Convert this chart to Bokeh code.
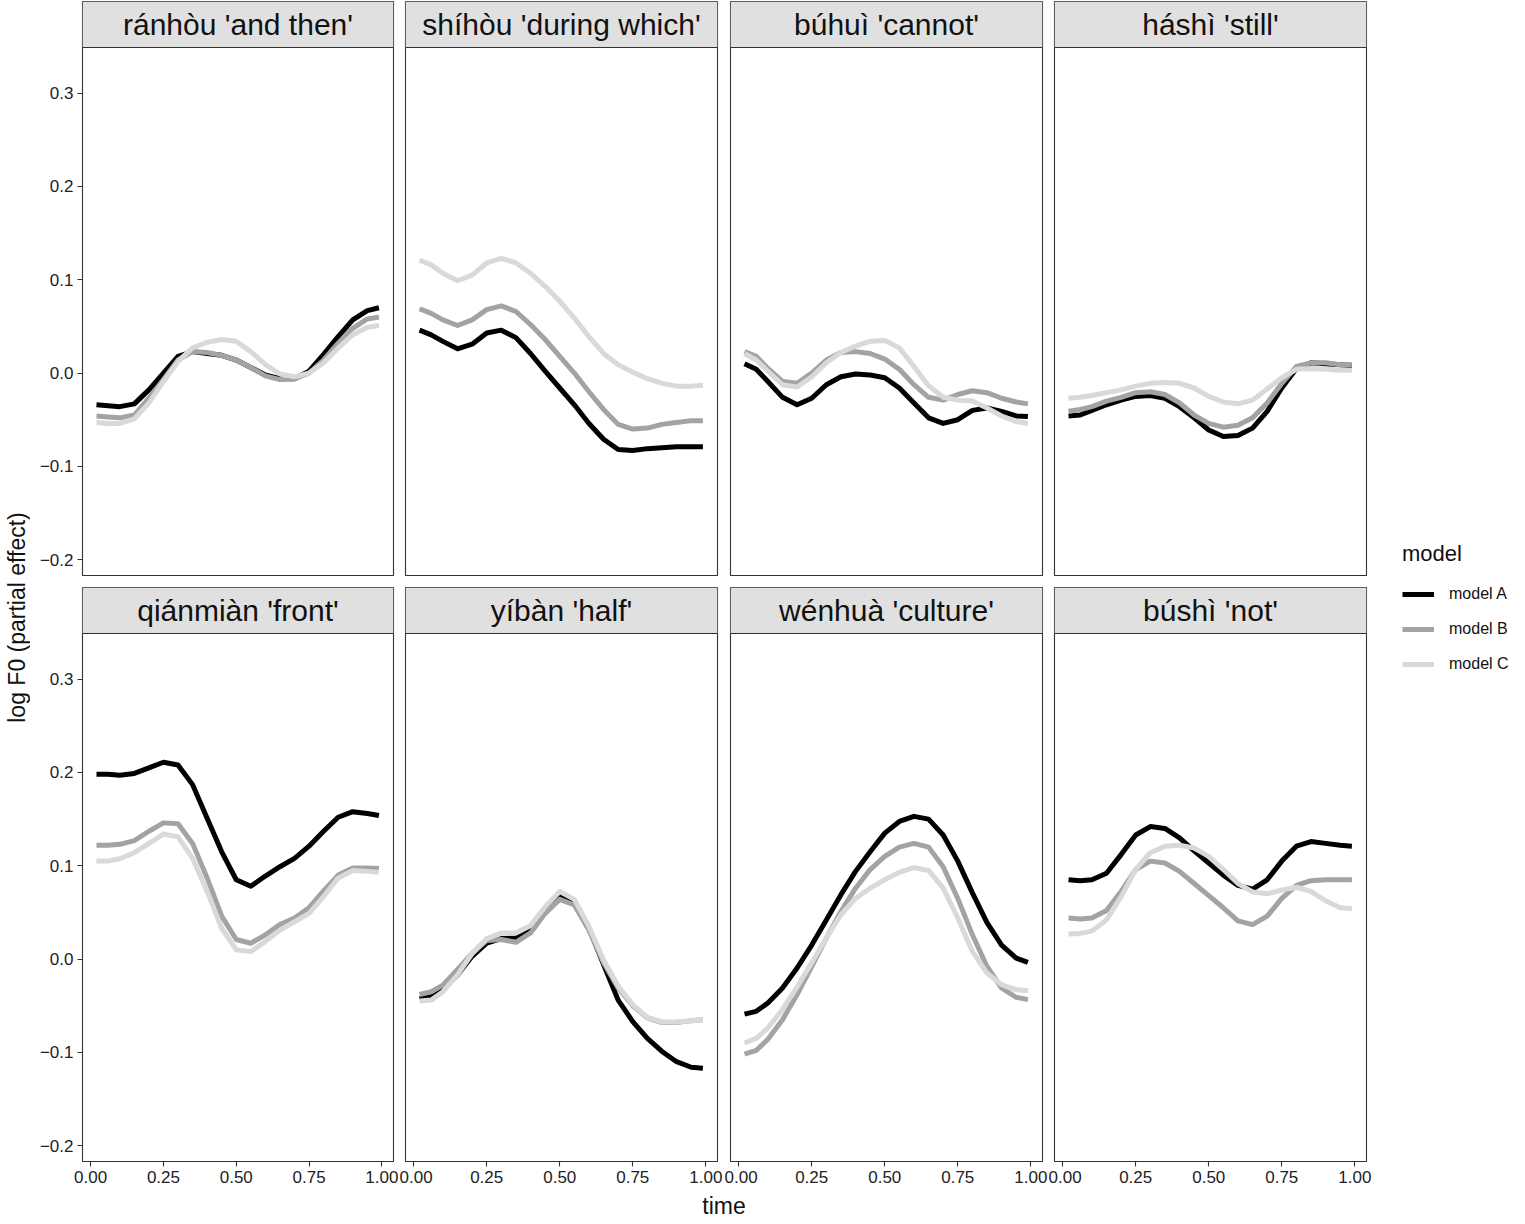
from math import pi

from bokeh.core.properties import value
from bokeh.embed import file_html
from bokeh.layouts import column, row
from bokeh.models import (BoxAnnotation, FixedTicker, Label, Legend, LegendItem,
                          NumeralTickFormatter, Range1d, Span)
from bokeh.plotting import figure
from bokeh.resources import INLINE

FONT = "Liberation Sans"

# normalised time points
time = [0.02, 0.06, 0.10, 0.15, 0.20, 0.25, 0.30, 0.35, 0.40, 0.45, 0.50,
        0.55, 0.60, 0.65, 0.70, 0.75, 0.80, 0.85, 0.90, 0.95, 0.99]

ranhou_a = [-0.034, -0.035, -0.036, -0.033, -0.018, 0.000, 0.018, 0.023, 0.021, 0.019, 0.014,
            0.006, -0.002, -0.006, -0.006, 0.002, 0.020, 0.039, 0.057, 0.067, 0.070]
ranhou_b = [-0.046, -0.047, -0.048, -0.045, -0.027, -0.007, 0.014, 0.023, 0.022, 0.019, 0.014,
            0.006, -0.003, -0.007, -0.006, 0.000, 0.014, 0.032, 0.048, 0.058, 0.060]
ranhou_c = [-0.053, -0.054, -0.054, -0.049, -0.032, -0.009, 0.0125, 0.027, 0.033, 0.036, 0.034,
            0.023, 0.009, -0.001, -0.004, 0.000, 0.011, 0.027, 0.041, 0.049, 0.051]

shihou_a = [0.046, 0.041, 0.034, 0.026, 0.031, 0.043, 0.046, 0.038, 0.021, 0.002, -0.016,
            -0.034, -0.054, -0.071, -0.082, -0.083, -0.081, -0.080, -0.079, -0.079, -0.079]
shihou_b = [0.069, 0.064, 0.057, 0.051, 0.057, 0.068, 0.072, 0.066, 0.052, 0.036, 0.018,
            0.000, -0.020, -0.039, -0.055, -0.060, -0.059, -0.055, -0.053, -0.051, -0.051]
shihou_c = [0.121, 0.116, 0.107, 0.099, 0.105, 0.118, 0.123, 0.118, 0.107, 0.093, 0.077,
            0.059, 0.039, 0.021, 0.009, 0.001, -0.006, -0.011, -0.014, -0.014, -0.013]

buhui_a = [0.010, 0.004, -0.009, -0.026, -0.034, -0.027, -0.0125, -0.004, -0.001, -0.002, -0.005,
           -0.016, -0.032, -0.048, -0.054, -0.050, -0.040, -0.0375, -0.041, -0.046, -0.0465]
buhui_b = [0.023, 0.018, 0.005, -0.009, -0.011, 0.000, 0.014, 0.022, 0.023, 0.021, 0.015,
           0.004, -0.0125, -0.026, -0.029, -0.023, -0.019, -0.021, -0.027, -0.031, -0.033]
buhui_c = [0.021, 0.014, 0.002, -0.0125, -0.015, -0.004, 0.011, 0.022, 0.029, 0.034, 0.035,
           0.027, 0.007, -0.0135, -0.026, -0.029, -0.030, -0.0375, -0.046, -0.052, -0.054]

hashi_a = [-0.046, -0.045, -0.040, -0.034, -0.029, -0.025, -0.024, -0.027, -0.036, -0.048, -0.061,
           -0.068, -0.067, -0.059, -0.041, -0.016, 0.005, 0.011, 0.010, 0.009, 0.008]
hashi_b = [-0.041, -0.039, -0.036, -0.030, -0.026, -0.021, -0.020, -0.023, -0.032, -0.045, -0.054,
           -0.058, -0.056, -0.048, -0.032, -0.011, 0.007, 0.011, 0.011, 0.009, 0.009]
hashi_c = [-0.027, -0.026, -0.024, -0.021, -0.018, -0.014, -0.011, -0.010, -0.011, -0.016, -0.025,
           -0.031, -0.033, -0.029, -0.017, -0.005, 0.004, 0.005, 0.004, 0.003, 0.003]

qianmian_a = [0.198, 0.198, 0.197, 0.199, 0.205, 0.211, 0.208, 0.187, 0.151, 0.115, 0.085,
              0.078, 0.089, 0.099, 0.108, 0.121, 0.137, 0.152, 0.158, 0.156, 0.154]
qianmian_b = [0.122, 0.122, 0.123, 0.127, 0.137, 0.146, 0.145, 0.124, 0.087, 0.046, 0.021,
              0.017, 0.026, 0.037, 0.044, 0.055, 0.073, 0.090, 0.0975, 0.0975, 0.097]
qianmian_c = [0.105, 0.105, 0.1075, 0.114, 0.124, 0.134, 0.131, 0.108, 0.0725, 0.033, 0.010,
              0.008, 0.019, 0.031, 0.040, 0.049, 0.067, 0.087, 0.095, 0.094, 0.093]

yiban_a = [-0.0425, -0.040, -0.033, -0.017, 0.003, 0.017, 0.022, 0.0225, 0.030, 0.051, 0.067,
           0.062, 0.033, -0.006, -0.044, -0.067, -0.085, -0.099, -0.110, -0.116, -0.117]
yiban_b = [-0.038, -0.035, -0.028, -0.011, 0.006, 0.020, 0.021, 0.018, 0.028, 0.049, 0.064,
           0.058, 0.031, -0.004, -0.031, -0.050, -0.063, -0.068, -0.068, -0.066, -0.065]
yiban_c = [-0.045, -0.044, -0.035, -0.017, 0.006, 0.022, 0.028, 0.028, 0.036, 0.056, 0.0725,
           0.064, 0.035, -0.001, -0.029, -0.049, -0.0625, -0.0675, -0.0675, -0.066, -0.065]

wenhua_a = [-0.059, -0.056, -0.047, -0.031, -0.0096, 0.015, 0.042, 0.069, 0.094, 0.115, 0.135,
            0.1475, 0.153, 0.150, 0.133, 0.105, 0.071, 0.039, 0.015, 0.001, -0.0036]
wenhua_b = [-0.102, -0.098, -0.086, -0.065, -0.038, -0.008, 0.0225, 0.051, 0.076, 0.096, 0.110,
            0.120, 0.124, 0.120, 0.099, 0.065, 0.026, -0.008, -0.031, -0.041, -0.0435]
wenhua_c = [-0.090, -0.085, -0.074, -0.054, -0.030, -0.004, 0.0225, 0.0475, 0.065, 0.076, 0.085,
            0.093, 0.098, 0.095, 0.076, 0.044, 0.008, -0.015, -0.0275, -0.033, -0.034]

bushi_a = [0.085, 0.084, 0.085, 0.092, 0.112, 0.133, 0.142, 0.140, 0.130, 0.116, 0.103,
           0.090, 0.079, 0.075, 0.085, 0.105, 0.121, 0.126, 0.124, 0.122, 0.121]
bushi_b = [0.044, 0.043, 0.044, 0.052, 0.0725, 0.096, 0.105, 0.103, 0.094, 0.081, 0.068,
           0.055, 0.041, 0.037, 0.046, 0.065, 0.079, 0.084, 0.085, 0.085, 0.085]
bushi_c = [0.027, 0.0275, 0.030, 0.042, 0.067, 0.096, 0.114, 0.121, 0.122, 0.119, 0.110,
           0.096, 0.081, 0.072, 0.070, 0.074, 0.077, 0.0725, 0.0625, 0.055, 0.054]

words = ["ránhòu 'and then'", "shíhòu 'during which'", "búhuì 'cannot'", "háshì 'still'",
         "qiánmiàn 'front'", "yíbàn 'half'", "wénhuà 'culture'", "búshì 'not'"]
models = ["model A", "model B", "model C"]
colors = ["#000000", "#a3a3a3", "#d9d9d9"]
y_ticks = [-0.2, -0.1, 0.0, 0.1, 0.2, 0.3]
x_ticks = [0.0, 0.25, 0.5, 0.75, 1.0]

series = [
    (ranhou_a, ranhou_b, ranhou_c), (shihou_a, shihou_b, shihou_c),
    (buhui_a, buhui_b, buhui_c), (hashi_a, hashi_b, hashi_c),
    (qianmian_a, qianmian_b, qianmian_c), (yiban_a, yiban_b, yiban_c),
    (wenhua_a, wenhua_b, wenhua_c), (bushi_a, bushi_b, bushi_c),
]

X0, X1 = -0.028, 1.040
Y0, Y1 = -0.217, 0.349
STRIP_H = 46
PANEL_H = 528
STRIP_TOP = Y1 + (Y1 - Y0) * STRIP_H / PANEL_H
BORDER = "#333333"
LW = 5

# per column: (frame width, left border, right border)
COLS = [(311, 52, 6), (312, 6, 7), (312, 6, 6), (312, 6, 6)]
YLAB_W = 30
XLAB_H = 28


def make_panel(idx):
    r, c = divmod(idx, 4)
    fw, bl, br = COLS[c]
    bottom = r == 1
    left = c == 0
    p = figure(
        frame_width=fw, frame_height=STRIP_H + PANEL_H,
        x_range=Range1d(X0, X1), y_range=Range1d(Y0, STRIP_TOP),
        x_axis_location="below" if bottom else None,
        y_axis_location="left" if left else None,
        min_border_left=bl, min_border_right=br,
        min_border_top=6 if bottom else 1, min_border_bottom=30 if bottom else 6,
        output_backend="svg", toolbar_location=None,
    )
    p.grid.visible = False
    p.outline_line_color = BORDER
    p.outline_line_width = 1.1
    p.background_fill_color = "white"
    p.border_fill_color = "white"

    # facet strip
    p.add_layout(BoxAnnotation(left=X0, right=X1, bottom=Y1, top=STRIP_TOP, level="underlay",
                               fill_color="#e0e0e0", fill_alpha=1.0, line_color=None))
    p.add_layout(Span(location=Y1, dimension="width", line_color=BORDER, line_width=1.1))
    p.text(x=[(X0 + X1) / 2], y=[(Y1 + STRIP_TOP) / 2], text=[words[idx]],
           text_font=value(FONT), text_font_size="30px", text_color="#111111",
           text_align="center", text_baseline="middle")

    for ys, col in zip(series[idx], colors):
        p.line(time, ys, line_color=col, line_width=LW, line_join="round")

    axes = []
    if left:
        p.yaxis.ticker = FixedTicker(ticks=y_ticks)
        p.yaxis.major_label_overrides = {t: f"{t:.1f}".replace("-", "\u2212") for t in y_ticks}
        axes.append(p.yaxis)
    if bottom:
        p.xaxis.ticker = FixedTicker(ticks=x_ticks)
        p.xaxis.formatter = NumeralTickFormatter(format="0.00")
        axes.append(p.xaxis)
    for ax in axes:
        ax.axis_line_color = None
        ax.major_tick_line_color = BORDER
        ax.major_tick_line_width = 1.1
        ax.major_tick_in = 0
        ax.major_tick_out = 5
        ax.minor_tick_line_color = None
        ax.major_label_text_font = FONT
        ax.major_label_text_font_size = "17px"
        ax.major_label_text_color = "#222222"
        ax.major_label_standoff = 4
    return p


panels = [make_panel(i) for i in range(8)]

total_h = (1 + STRIP_H + PANEL_H + 6) + (6 + STRIP_H + PANEL_H + 30) + XLAB_H
grid_w = sum(fw + bl + br for fw, bl, br in COLS)


def blank(w, h, xr, yr):
    f = figure(frame_width=w, frame_height=h, x_range=xr, y_range=yr,
               x_axis_location=None, y_axis_location=None, min_border=0,
               output_backend="svg", toolbar_location=None)
    f.grid.visible = False
    f.outline_line_color = None
    return f


ylab = blank(YLAB_W, total_h, Range1d(0, YLAB_W), Range1d(0, total_h))
ylab.add_layout(Label(x=16, y=total_h - 617, text="log F0 (partial effect)", angle=pi / 2,
                      text_align="center", text_baseline="middle",
                      text_font=FONT, text_font_size="23px", text_color="#111111"))

xlab = blank(grid_w, XLAB_H, Range1d(0, grid_w), Range1d(0, XLAB_H))
xlab.add_layout(Label(x=723.5 - YLAB_W, y=XLAB_H / 2, text="time", text_align="center",
                      text_baseline="middle", text_font=FONT, text_font_size="23px",
                      text_color="#111111"))

leg = blank(145, total_h, Range1d(0, 1), Range1d(0, 1))
items = []
for name, col in zip(models, colors):
    r = leg.line([float("nan")], [float("nan")], line_color=col, line_width=LW)
    items.append(LegendItem(label=name, renderers=[r]))
legend = Legend(items=items, title="model", location="left", margin=30, padding=0,
                spacing=5, glyph_width=32, glyph_height=30, label_height=30,
                label_standoff=15, title_standoff=12,
                border_line_color=None, background_fill_alpha=0,
                title_text_font=FONT, title_text_font_size="22px", title_text_color="#111111",
                title_text_font_style="normal",
                label_text_font=FONT, label_text_font_size="16px", label_text_color="#111111")
leg.add_layout(legend)

layout = row(
    ylab,
    column(row(*panels[:4]), row(*panels[4:]), xlab),
    leg,
)

open("out.html", "w").write(file_html(layout, INLINE))
